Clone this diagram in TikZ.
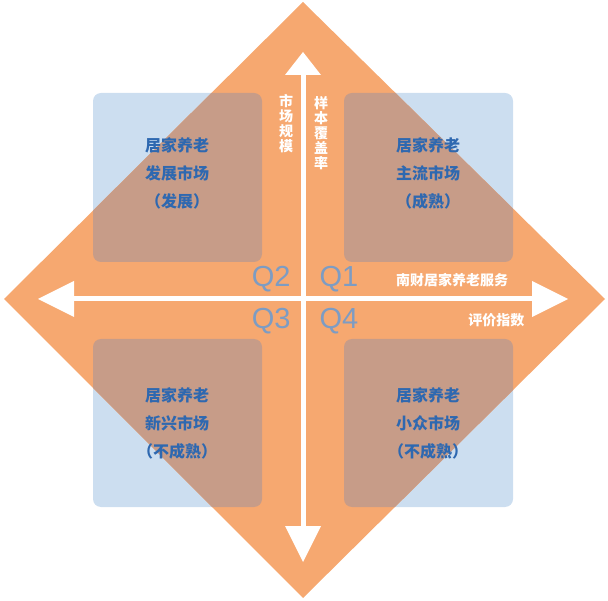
\documentclass[tikz,border=0pt]{standalone}
\usepackage{fontspec}
\newfontfamily\cjk{Noto Sans CJK SC}
\newfontfamily\qf{Liberation Sans}
\usetikzlibrary{arrows.meta}
\definecolor{dorange}{RGB}{246,168,112}
\definecolor{sblue}{RGB}{204,222,240}
\definecolor{ovl}{RGB}{199,156,136}
\definecolor{tblue}{RGB}{46,104,176}
\definecolor{qblue}{RGB}{125,156,195}
\tikzset{
 sq/.style={fill=sblue,rounded corners=8pt},
 sqo/.style={fill=ovl,rounded corners=8pt},
 boxtxt/.style={font=\cjk\fontsize{16}{28}\selectfont\bfseries,text=tblue,align=center},
 qlab/.style={font=\qf\fontsize{29}{29}\selectfont,text=qblue},
 axlab/.style={font=\cjk\fontsize{14}{16}\selectfont\bfseries,text=white},
 axis/.style={draw=white,line width=5pt},
 tip/.style={fill=white}
}
\begin{document}
\begin{tikzpicture}[x=1pt,y=-1pt]
\useasboundingbox (0,0) rectangle (608,601);
\def\SQA{(93,93) rectangle (262,262)}
\def\SQB{(344,93) rectangle (513,262)}
\def\SQC{(93,339) rectangle (262,507)}
\def\SQD{(344,339) rectangle (513,507)}
\foreach \r in {\SQA,\SQB,\SQC,\SQD} \path[sq] \r;
\fill[dorange] (303,2) coordinate (dT) -- (605,299) coordinate (dR) -- (303,598) coordinate (dB) -- (4,299) coordinate (dL) -- cycle;
\begin{scope}
\clip (dT) -- (dR) -- (dB) -- (dL) -- cycle;
\foreach \r in {\SQA,\SQB,\SQC,\SQD} \path[sqo] \r;
\end{scope}
% axes
\coordinate (vt) at (303,70); \coordinate (vb) at (303,528);
\coordinate (hl) at (70,299); \coordinate (hr) at (535,299);
\draw[axis] (vt) -- (vb);
\draw[axis] (hl) -- (hr);
\fill[tip] (303,52) -- (321,75) -- (285,75) -- cycle;
\fill[tip] (303,562) -- (321,526) -- (285,526) -- cycle;
\fill[tip] (38,299) -- (74,281) -- (74,317) -- cycle;
\fill[tip] (568,299) -- (532,281) -- (532,317) -- cycle;
% box texts
\node[boxtxt] (t2) at (177,173) {居家养老\\发展市场\\（发展）};
\node[boxtxt] (t1) at (428,173) {居家养老\\主流市场\\（成熟）};
\node[boxtxt] (t3) at (177,423) {居家养老\\新兴市场\\（不成熟）};
\node[boxtxt] (t4) at (428,423) {居家养老\\小众市场\\（不成熟）};
% Q labels
\node[qlab,anchor=east] (q2) at (294,279) {Q2};
\node[qlab,anchor=west] (q1) at (316,279) {Q1};
\node[qlab,anchor=east] (q3) at (294,321) {Q3};
\node[qlab,anchor=west] (q4) at (316,321) {Q4};
% axis labels
\node[axlab,align=center,font=\cjk\fontsize{14}{15}\selectfont\bfseries] (vl) at (286,124) {市\\场\\规\\模};
\node[axlab,align=center,font=\cjk\fontsize{14}{15}\selectfont\bfseries] (vr) at (321,133) {样\\本\\覆\\盖\\率};
\node[axlab] (h1) at (452,280) {南财居家养老服务};
\node[axlab,anchor=east] (h2) at (528,320) {评价指数};
\end{tikzpicture}
\end{document}
